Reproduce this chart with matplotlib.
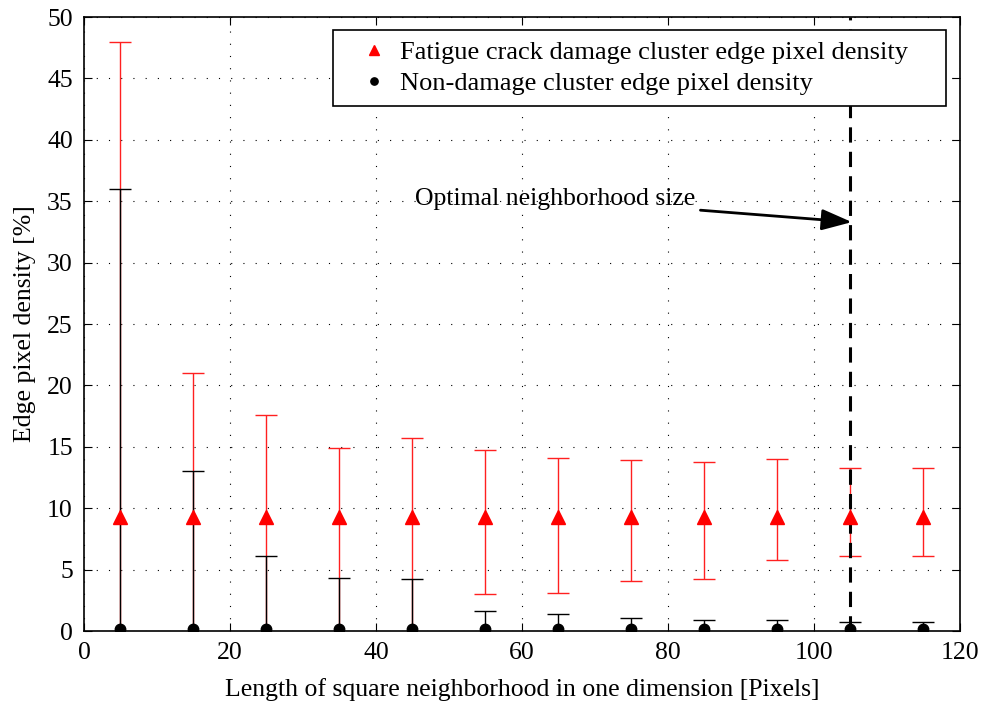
import numpy as np
import matplotlib
matplotlib.use("Agg")
import matplotlib.pyplot as plt

plt.rcParams["font.family"] = ["Liberation Serif", "DejaVu Serif"]

# neighborhood sizes
sizes = [5, 15, 25, 35, 45, 55, 65, 75, 85, 95, 105, 115]

# fatigue crack damage cluster (red)
crack_mean = [9.3, 9.3, 9.3, 9.3, 9.3, 9.3, 9.3, 9.3, 9.3, 9.3, 9.3, 9.3]
crack_upper = [48.0, 21.0, 17.6, 14.9, 15.7, 14.7, 14.1, 13.9, 13.8, 14.0, 13.3, 13.3]
crack_lower = [-29.0, -2.0, -1.0, -1.0, -1.0, 3.0, 3.1, 4.1, 4.2, 5.8, 6.1, 6.1]

# non-damage cluster (black)
non_mean = [0.2, 0.2, 0.2, 0.2, 0.2, 0.2, 0.2, 0.2, 0.2, 0.2, 0.2, 0.2]
non_upper = [36.0, 13.0, 6.1, 4.3, 4.2, 1.6, 1.4, 1.1, 0.9, 0.9, 0.7, 0.7]
non_lower = [-1.0, -1.0, -1.0, -1.0, -1.0, -1.0, -1.0, -1.0, -1.0, -1.0, -1.0, -1.0]

optimal_size = 105


def main():
    fig = plt.figure(figsize=(9.82, 7.03), dpi=100)
    ax = fig.add_axes([0.0855, 0.1024, 0.892, 0.8734])

    cm = np.array(crack_mean)
    nm = np.array(non_mean)

    ax.errorbar(
        sizes, cm,
        yerr=[cm - np.array(crack_lower), np.array(crack_upper) - cm],
        fmt="none", ecolor="#ff2020", elinewidth=1.0, capsize=8, capthick=1.0,
        zorder=2
    )
    ax.errorbar(
        sizes, nm,
        yerr=[nm - np.array(non_lower), np.array(non_upper) - nm],
        fmt="none", ecolor="black", elinewidth=1.0, capsize=8, capthick=1.0,
        zorder=3
    )

    ax.plot(sizes, crack_mean, linestyle="none", marker="^", markersize=9.5,
            color="#ff0000", label="Fatigue crack damage cluster edge pixel density",
            zorder=4)
    ax.plot(sizes, non_mean, linestyle="none", marker="o", markersize=7.5,
            color="black", label="Non-damage cluster edge pixel density",
            zorder=4)

    ax.axvline(optimal_size, color="black", linestyle=(0, (5, 3)), linewidth=2.2,
               zorder=3)

    ax.annotate(
        "Optimal neighborhood size",
        xy=(105.2, 33.3), xytext=(45.3, 35.2),
        fontsize=18.5, va="center", ha="left",
        arrowprops=dict(arrowstyle="-|>,head_length=1.0,head_width=0.35",
                        color="black", lw=2.0, shrinkA=2, shrinkB=0),
        zorder=5
    )

    ax.set_xlim(0, 120)
    ax.set_ylim(0, 50)
    ax.set_xticks(np.arange(0, 121, 20))
    ax.set_yticks(np.arange(0, 51, 5))
    ax.grid(True, linestyle=(0, (1, 10)), color="black", linewidth=0.8)
    ax.tick_params(direction="in", top=True, right=True, labelsize=18.5,
                   length=6, pad=8)

    ax.set_xlabel("Length of square neighborhood in one dimension [Pixels]",
                  fontsize=18.5, labelpad=10)
    ax.set_ylabel("Edge pixel density [%]", fontsize=18.5, labelpad=8)

    leg = ax.legend(loc="upper left", bbox_to_anchor=(0.284, 0.0, 0.700, 0.979),
                    mode="expand", fontsize=19,
                    numpoints=1, handlelength=2.3, handletextpad=-0.15,
                    fancybox=False, edgecolor="black", framealpha=1,
                    borderpad=0.4, labelspacing=0.3, markerscale=0.7,
                    borderaxespad=0)
    leg.get_frame().set_linewidth(1.2)
    leg.set_zorder(6)

    for spine in ax.spines.values():
        spine.set_linewidth(1.2)

    fig.savefig("out.png", dpi=100)
    plt.close(fig)


if __name__ == "__main__":
    main()
